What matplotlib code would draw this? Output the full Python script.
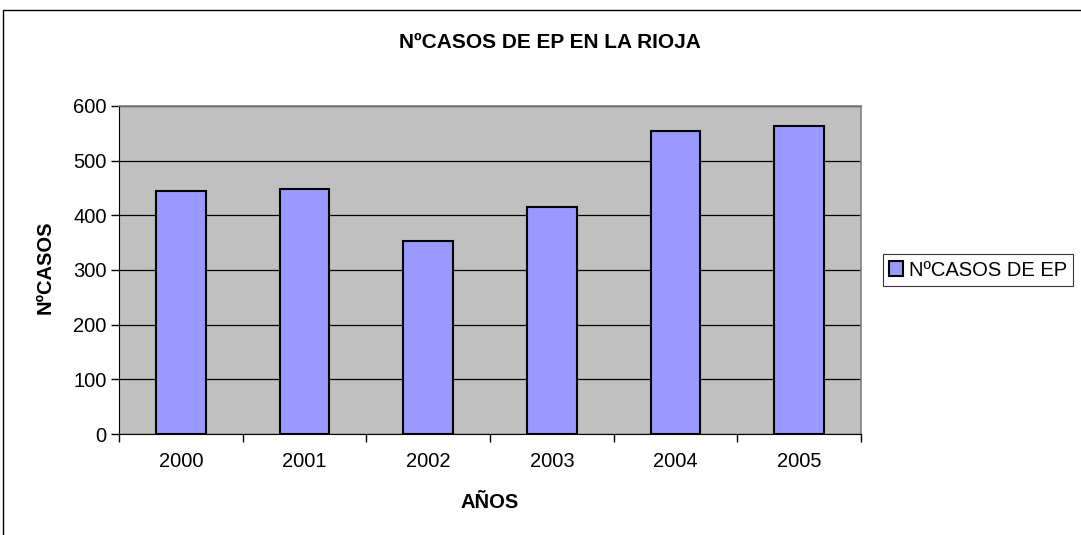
import matplotlib.pyplot as plt
from matplotlib.patches import Rectangle

plt.rcParams['font.family'] = ['Liberation Sans', 'DejaVu Sans']

# data
years = ['2000', '2001', '2002', '2003', '2004', '2005']
casos = [444, 449, 353, 415, 554, 563]
yticks = [0, 100, 200, 300, 400, 500, 600]

fig = plt.figure(figsize=(10.81, 5.35), dpi=100)

# outer chart border (runs off the right and bottom edges)
fig.patches.append(Rectangle((3 / 1081, -0.1), 1.2, 1 - 10 / 535 + 0.1,
                             transform=fig.transFigure, fill=False,
                             edgecolor='black', linewidth=1))

ax = fig.add_axes([119 / 1081, 1 - 434 / 535, 742 / 1081, 328 / 535])
ax.set_facecolor('#C0C0C0')

x = list(range(len(years)))
ax.bar(x, casos, width=0.4, color='#9999FF', edgecolor='black', linewidth=1.5,
       label='NºCASOS DE EP', zorder=3)

ax.set_ylim(0, 600)
ax.set_xlim(-0.5, 5.5)
ax.set_yticks(yticks)
ax.yaxis.grid(True, color='black', linewidth=0.9, zorder=1)
ax.set_axisbelow(True)

# category labels in the middle, ticks on the boundaries
ax.set_xticks([i - 0.5 for i in range(len(years) + 1)])
ax.set_xticklabels([])
ax.set_xticks(x, minor=True)
ax.set_xticklabels(years, minor=True)
ax.tick_params(axis='x', which='minor', length=0, pad=13, labelsize=14.5)
ax.tick_params(axis='x', which='major', length=6, width=1, direction='out')
ax.tick_params(axis='y', length=6, width=1, direction='out', labelsize=14.5, pad=3)

for side in ['top', 'right']:
    ax.spines[side].set_color('#808080')
    ax.spines[side].set_linewidth(1.2)
ax.spines['left'].set_color('black')
ax.spines['bottom'].set_color('black')

ax.set_xlabel('AÑOS', fontsize=14.5, fontweight='bold')
ax.xaxis.set_label_coords(0.5, -(502 - 434) / 328)
ax.xaxis.label.set_va('center')
ax.set_ylabel('NºCASOS', fontsize=14.5, fontweight='bold')
ax.yaxis.set_label_coords((45 - 119) / 742, (434 - 267) / 328)
ax.yaxis.label.set_va('center')
fig.text(550 / 1081, 1 - 42 / 535, 'NºCASOS DE EP EN LA RIOJA', ha='center',
         va='center', fontsize=15, fontweight='bold')

leg = ax.legend(loc='center left', bbox_to_anchor=(1 + (883 - 861) / 742, 0.5),
                fontsize=14.5, frameon=True, fancybox=False, edgecolor='black',
                handlelength=0.7, handleheight=0.7, handletextpad=0.3,
                borderpad=0.3, borderaxespad=0)
leg.get_frame().set_linewidth(0.8)

fig.savefig('out.png', dpi=100)
